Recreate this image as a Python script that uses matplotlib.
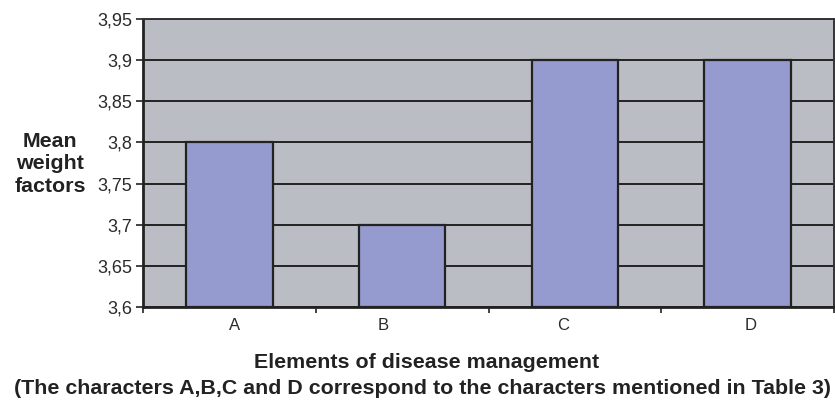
import matplotlib
matplotlib.use('Agg')
from matplotlib import pyplot as plt
import numpy as np

categories = ['A', 'B', 'C', 'D']
values = [3.8, 3.7, 3.9, 3.9]
yticks = [3.6, 3.65, 3.7, 3.75, 3.8, 3.85, 3.9, 3.95]
ytick_labels = ['3,6', '3,65', '3,7', '3,75', '3,8', '3,85', '3,9', '3,95']
# label positions as they sit in the original (slightly off-centre)
label_offsets = [0.03, -0.11, -0.07, 0.02]

plt.rcParams['font.family'] = ['Liberation Sans', 'DejaVu Sans']

fig = plt.figure(figsize=(8.35, 4.0), dpi=100)
ax = fig.add_axes([143 / 835, 93 / 400, 691 / 835, 288 / 400])
ax.set_facecolor('#babdc3')

x = np.arange(len(categories))
ax.set_axisbelow(True)
ax.yaxis.grid(True, color='#222222', linewidth=1.4)
ax.bar(x, [v - 3.6 for v in values], bottom=3.6, width=0.5,
       color='#959bcf', edgecolor='#222222', linewidth=1.6, zorder=3)

ax.set_xlim(-0.5, len(categories) - 0.5)
ax.set_ylim(3.6, 3.95)
ax.set_yticks(yticks)
ax.set_yticklabels(ytick_labels, fontsize=13, color='#2a2a2a')
ax.tick_params(axis='y', length=5, width=1.2, color='#222222', pad=3)

ax.set_xticks(x + np.array(label_offsets))
ax.set_xticklabels(categories, fontsize=12, color='#2a2a2a')
ax.tick_params(axis='x', which='major', length=0, pad=8)
ax.set_xticks(np.arange(-0.5, len(categories), 1.0), minor=True)
ax.tick_params(axis='x', which='minor', length=4, width=1.2, color='#222222')

for side in ['left', 'bottom']:
    ax.spines[side].set_linewidth(2.0)
    ax.spines[side].set_color('#222222')
for side in ['top', 'right']:
    ax.spines[side].set_linewidth(1.4)
    ax.spines[side].set_color('#333333')

fig.text(50 / 835, 1 - 164 / 400, 'Mean\nweight\nfactors', ha='center', va='center',
         fontsize=15.4, fontweight='bold', color='#222222', linespacing=1.25)
fig.text(427 / 835, 1 - 362 / 400, 'Elements of disease management', ha='center', va='center',
         fontsize=15.4, fontweight='bold', color='#222222')
fig.text(423 / 835, 1 - 389 / 400,
         '(The characters A,B,C and D correspond to the characters mentioned in Table 3)',
         ha='center', va='center', fontsize=15.4, fontweight='bold', color='#222222')

plt.savefig('out.png', dpi=100)
plt.close()
